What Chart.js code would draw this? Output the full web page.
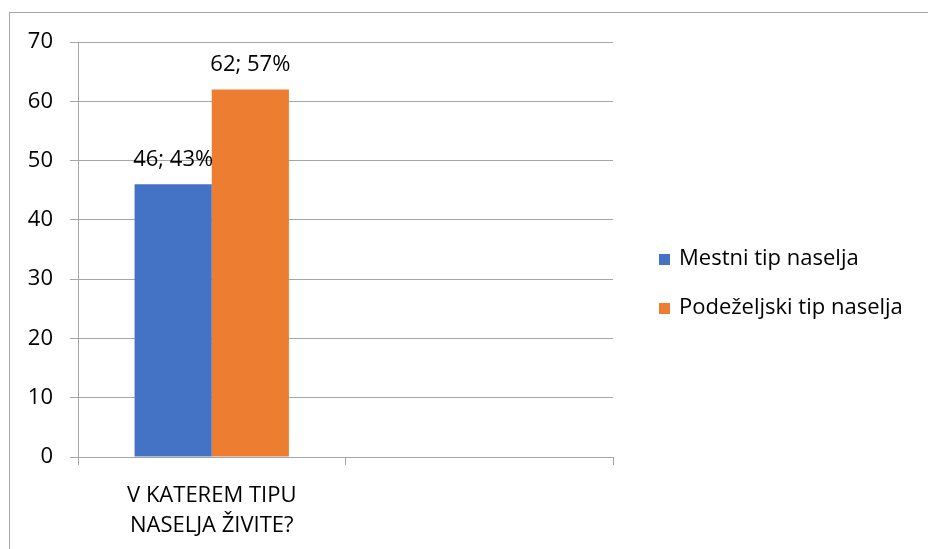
<!DOCTYPE html>
<html lang="sl">
<head>
  <meta charset="UTF-8">
  <title>V katerem tipu naselja živite?</title>
  <script src="https://cdn.jsdelivr.net/npm/chart.js"></script>
  <style>
    html, body { margin: 0; padding: 0; background: #fff; }
    #graf { display: block; }
  </style>
</head>
<body>
  <canvas id="graf" width="928" height="549"></canvas>
  <script>
    // podatki
    const kategorije = [["V KATEREM TIPU", "NASELJA ŽIVITE?"], ""];
    const mestni = [46, null];
    const podezeljski = [62, null];
    const imenaSerij = ["Mestni tip naselja", "Podeželjski tip naselja"];
    const barve = ["#4472C4", "#ED7D31"];
    const yTicks = [0, 10, 20, 30, 40, 50, 60, 70];

    const pisava = "'Open Sans', 'Noto Sans', sans-serif";
    const velikost = 22;
    const siva = "#a6a6a6";

    // okvir, oznake vrednosti in legenda
    const risanje = {
      id: "risanje",
      beforeDraw(chart) {
        const ctx = chart.ctx;
        ctx.save();
        ctx.strokeStyle = siva;
        ctx.lineWidth = 1;
        ctx.strokeRect(9.5, 12.5, 1000, 1000);
        ctx.restore();
      },
      afterDatasetsDraw(chart) {
        const ctx = chart.ctx;
        const ds = chart.data.datasets;
        ctx.save();
        ctx.font = velikost + "px " + pisava;
        ctx.fillStyle = "#000";
        ctx.textAlign = "center";
        ctx.textBaseline = "middle";
        chart.data.labels.forEach((_, i) => {
          const vsota = ds.reduce((s, d) => s + (d.data[i] || 0), 0);
          ds.forEach((d, j) => {
            const v = d.data[i];
            if (v == null) return;
            const el = chart.getDatasetMeta(j).data[i];
            const pct = Math.round(v / vsota * 100);
            ctx.fillText(v + "; " + pct + "%", el.x, el.y - 25);
          });
        });
        // legenda
        const lx = 659, ly = [259, 308];
        ds.forEach((d, j) => {
          ctx.fillStyle = d.backgroundColor;
          ctx.fillRect(lx, ly[j] - 5, 11, 11);
          ctx.fillStyle = "#000";
          ctx.textAlign = "left";
          ctx.fillText(d.label, lx + 20, ly[j]);
        });
        ctx.restore();
      }
    };

    new Chart(document.getElementById("graf"), {
      type: "bar",
      data: {
        labels: kategorije,
        datasets: [
          { label: imenaSerij[0], data: mestni, backgroundColor: barve[0] },
          { label: imenaSerij[1], data: podezeljski, backgroundColor: barve[1] }
        ]
      },
      options: {
        responsive: false,
        animation: false,
        devicePixelRatio: 1,
        layout: { padding: { top: 42, right: 315, bottom: 0, left: 0 } },
        plugins: { legend: { display: false }, tooltip: { enabled: false } },
        datasets: { bar: { categoryPercentage: 0.577, barPercentage: 1 } },
        scales: {
          x: {
            grid: { display: true, drawOnChartArea: false, color: siva, tickLength: 8, offset: true },
            border: { color: siva },
            ticks: {
              color: "#000", font: { size: velikost, family: pisava, lineHeight: 1.36 },
              padding: 16, maxRotation: 0
            },
            afterFit(s) { s.height = 92; }
          },
          y: {
            min: 0, max: 70,
            afterBuildTicks(s) { s.ticks = yTicks.map(v => ({ value: v })); },
            grid: { color: siva, tickLength: 8 },
            border: { color: siva },
            ticks: { color: "#000", font: { size: velikost, family: pisava }, padding: 17 },
            afterFit(s) { s.width = 78; }
          }
        }
      },
      plugins: [risanje]
    });
  </script>
</body>
</html>
